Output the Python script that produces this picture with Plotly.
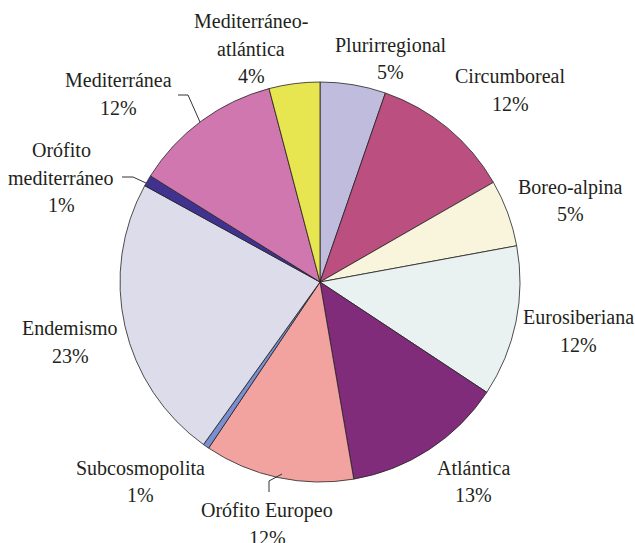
import plotly.graph_objects as go

# Data
categories = ["Plurirregional", "Circumboreal", "Boreo-alpina", "Eurosiberiana", "Atlántica",
              "Orófito Europeo", "Subcosmopolita", "Endemismo", "Orófito mediterráneo",
              "Mediterránea", "Mediterráneo-atlántica"]
values = [5.3, 11.4, 5.4, 12.2, 13.0, 12.1, 0.5, 23.1, 0.9, 12.0, 4.1]
pct_labels = ["5%", "12%", "5%", "12%", "13%", "12%", "1%", "23%", "1%", "12%", "4%"]
label_lines = [["Plurirregional"], ["Circumboreal"], ["Boreo-alpina"], ["Eurosiberiana"],
               ["Atlántica"], ["Orófito Europeo"], ["Subcosmopolita"], ["Endemismo"],
               ["Orófito", "mediterráneo"], ["Mediterránea"], ["Mediterráneo-", "atlántica"]]

# Styles / layout
colors = ["#C0BCDE", "#BB5080", "#F8F5DC", "#EAF1F1", "#812B7B", "#F2A39F",
          "#7A8FD0", "#DDDCEA", "#42328F", "#D077B0", "#E8E650"]
label_pos = [(391, 45), (510, 76), (570, 187), (578, 317), (473, 468), (267, 510),
             (140, 468), (70, 328), (61, 150), (118, 80), (251, 21)]
leaders = [[(178, 95), (188, 95), (200, 122)],
           [(122, 177), (133, 177), (146, 183)],
           [(269, 492), (269, 481), (282, 474)]]

FONT = "Liberation Serif"
W, H = 635, 543
LINE = 27.5

def px(x):
    return x / W

def py(y):
    return 1 - y / H

fig = go.Figure(go.Pie(
    labels=categories, values=values, sort=False, direction="clockwise", rotation=0,
    marker=dict(colors=colors, line=dict(color="#222222", width=0.8)),
    textinfo="none", hoverinfo="label+percent", showlegend=False,
    domain=dict(x=[px(120), px(520)], y=[py(482), py(82)]),
))

annotations = []
for lines, pct, (x, y) in zip(label_lines, pct_labels, label_pos):
    for i, t in enumerate(lines + [pct]):
        annotations.append(dict(
            x=px(x), y=py(y + i * LINE), xref="paper", yref="paper",
            text=t, showarrow=False, xanchor="center", yanchor="middle",
            font=dict(family=FONT, size=20, color="#231F20")))

shapes = []
for pts in leaders:
    path = "M " + " L ".join(f"{px(a)},{py(b)}" for a, b in pts)
    shapes.append(dict(type="path", path=path, xref="paper", yref="paper",
                       line=dict(color="#333333", width=1)))

fig.update_layout(width=W, height=H, margin=dict(l=0, r=0, t=0, b=0),
                  paper_bgcolor="white", plot_bgcolor="white",
                  font=dict(family=FONT),
                  annotations=annotations, shapes=shapes)

fig.write_html("out.html")
